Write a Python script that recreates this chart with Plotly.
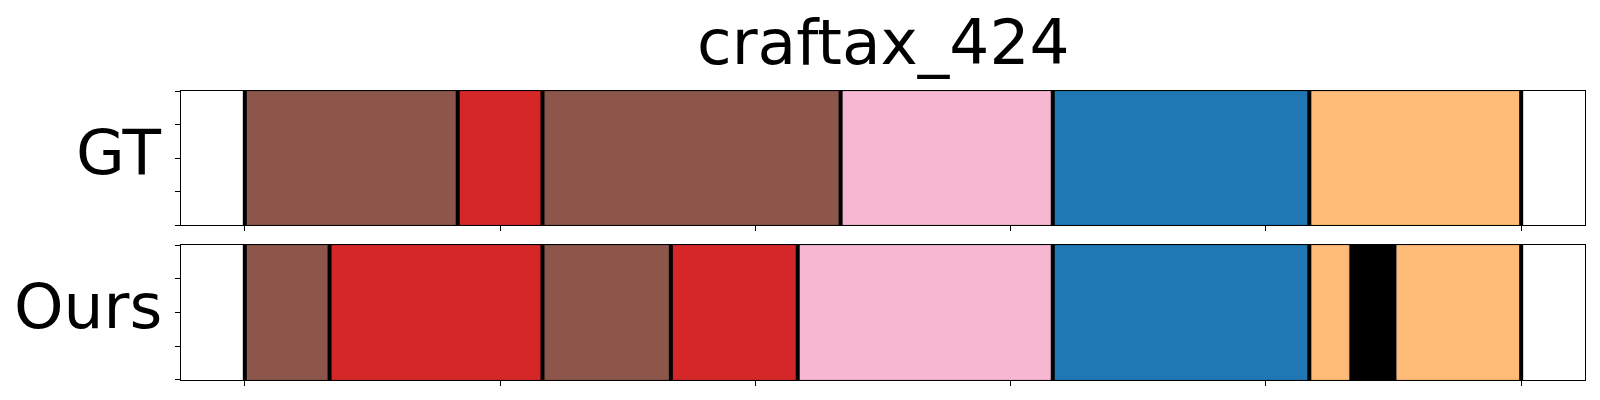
import plotly.graph_objects as go

# ---- data ----
title_text = "craftax_424"
row_names = ["GT", "Ours"]
x_ticks = [0, 100, 200, 300, 400, 500]
y_ticks = [-0.5, -0.25, 0, 0.25, 0.5]

BROWN = "#8c564b"
RED = "#d62728"
PINK = "#f7b6d2"
BLUE = "#1f77b4"
ORANGE = "#ffbb78"
BLACK = "#000000"

gt_bounds = [0, 83.4, 116.6, 233.4, 316.5, 417.0, 500]
gt_colors = [BROWN, RED, BROWN, PINK, BLUE, ORANGE]

ours_bounds = [0, 33.2, 116.6, 166.9, 216.6, 316.5, 417.0, 432.7, 451.2, 500]
ours_colors = [BROWN, RED, BROWN, RED, PINK, BLUE, ORANGE, BLACK, ORANGE]

rows = [(gt_bounds, gt_colors), (ours_bounds, ours_colors)]

fig = go.Figure()

for i, (bounds, colors) in enumerate(rows):
    xa = "x" if i == 0 else "x2"
    ya = "y" if i == 0 else "y2"
    starts = bounds[:-1]
    lengths = [b - a for a, b in zip(bounds[:-1], bounds[1:])]
    fig.add_trace(go.Bar(
        orientation="h",
        y=[0] * len(starts),
        x=lengths,
        base=starts,
        width=1,
        marker=dict(color=colors, line=dict(color="rgba(0,0,0,0.15)", width=1)),
        xaxis=xa, yaxis=ya, showlegend=False, hoverinfo="skip",
    ))
    # boundary lines (skip boundaries touching a black segment)
    lx, ly = [], []
    for k, b in enumerate(bounds):
        left = colors[k - 1] if k > 0 else None
        right = colors[k] if k < len(colors) else None
        if left == BLACK or right == BLACK:
            continue
        lx += [b, b, None]
        ly += [-0.5, 0.5, None]
    fig.add_trace(go.Scatter(
        x=lx, y=ly, mode="lines", line=dict(color="black", width=4),
        xaxis=xa, yaxis=ya, showlegend=False, hoverinfo="skip",
    ))

axis_common = dict(showline=True, mirror=True, linecolor="black", linewidth=1,
                   showgrid=False, zeroline=False, ticks="outside", ticklen=5,
                   tickwidth=1, tickcolor="black", showticklabels=False)

fig.update_layout(
    width=1592, height=392,
    margin=dict(l=173, r=15, t=83, b=20),
    paper_bgcolor="white", plot_bgcolor="white",
    barmode="overlay",
    font=dict(family="DejaVu Sans", color="black"),
    xaxis=dict(domain=[0, 1], range=[-25, 525], tickvals=x_ticks, anchor="y", **axis_common),
    yaxis=dict(domain=[0.536, 1], range=[-0.5, 0.5], tickvals=y_ticks, anchor="x", **axis_common),
    xaxis2=dict(domain=[0, 1], range=[-25, 525], tickvals=x_ticks, anchor="y2", **axis_common),
    yaxis2=dict(domain=[0, 0.467], range=[-0.5, 0.5], tickvals=y_ticks, anchor="x2", **axis_common),
)

for i, name in enumerate(row_names):
    yref = "y domain" if i == 0 else "y2 domain"
    fig.add_annotation(text=name, xref="paper", x=0, xanchor="right", xshift=-17,
                       yref=yref, y=0.5, yanchor="middle", yshift=6,
                       showarrow=False, font=dict(size=63, family="DejaVu Sans", color="black"))

fig.add_annotation(text=title_text, xref="paper", x=0.5, xanchor="center",
                   yref="paper", y=1, yanchor="bottom", yshift=10,
                   showarrow=False, font=dict(size=63, family="DejaVu Sans", color="black"))

fig.write_html("out.html")
